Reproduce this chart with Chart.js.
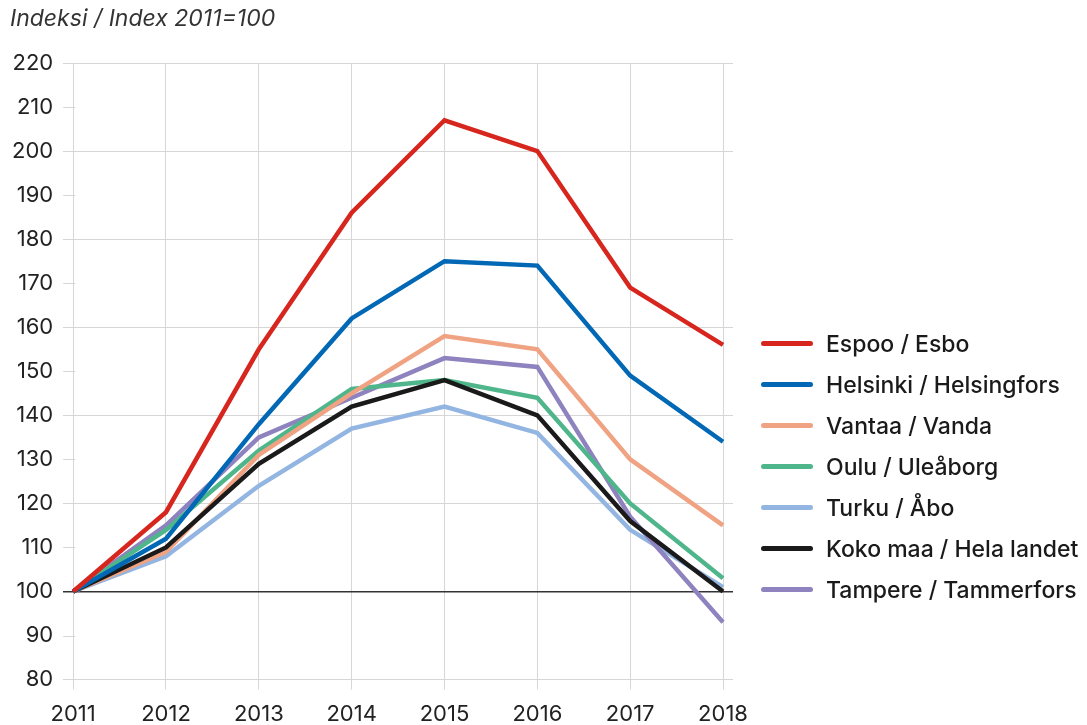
<!DOCTYPE html>
<html>
<head>
<meta charset="utf-8">
<script src="https://cdn.jsdelivr.net/npm/chart.js@4"></script>
<style>
  body { margin: 0; background: #fff; font-family: "Inter", "Liberation Sans", sans-serif; }
  #wrap { position: relative; width: 1087px; height: 725px; overflow: hidden; }
  #title { position: absolute; left: 10px; top: 4px; font-size: 23px; font-style: italic; color: #333; white-space: nowrap; }
  #legend { position: absolute; left: 761px; top: 323px; }
  .item { display: flex; align-items: center; height: 41px; font-size: 23px; color: #1a1a1a; font-weight: 500; white-space: nowrap; }
  .swatch { width: 52px; height: 5px; border-radius: 3px; margin-right: 13px; }
  canvas { display: block; }
</style>
</head>
<body>
<div id="wrap">
  <canvas id="myChart" width="1087" height="740"></canvas>
  <div id="title">Indeksi / Index 2011=100</div>
  <div id="legend"></div>
</div>
<script>
const years = [2011, 2012, 2013, 2014, 2015, 2016, 2017, 2018];

const labels = [
  "Espoo / Esbo",
  "Helsinki / Helsingfors",
  "Vantaa / Vanda",
  "Oulu / Uleåborg",
  "Turku / Åbo",
  "Koko maa / Hela landet",
  "Tampere / Tammerfors",
];

const espoo = [100, 118, 155, 186, 207, 200, 169, 156];
const helsinki = [100, 112, 138, 162, 175, 174, 149, 134];
const vantaa = [100, 109, 131, 145, 158, 155, 130, 115];
const oulu = [100, 114, 132, 146, 148, 144, 120, 103];
const turku = [100, 108, 124, 137, 142, 136, 114, 101];
const kokoMaa = [100, 110, 129, 142, 148, 140, 116, 100];
const tampere = [100, 115, 135, 144, 153, 151, 117, 93];

const series = [espoo, helsinki, vantaa, oulu, turku, kokoMaa, tampere];
const colors = ["#d7261e", "#0068b4", "#f0a383", "#4fb68c", "#93b5e1", "#1a1a1a", "#8e83bf"];
const drawOrder = [1, 2, 4, 5, 7, 3, 6];

const ctx = document.getElementById("myChart");

// short tick marks at the odd tens, drawn inside the plot like the original
const minorTicks = {
  id: "minorTicks",
  beforeDatasetsDraw(chart) {
    const y = chart.scales.y;
    const left = chart.chartArea.left;
    const c = chart.ctx;
    c.save();
    c.strokeStyle = "#d6d6d6";
    c.lineWidth = 1;
    for (let v = 90; v < 220; v += 20) {
      const py = Math.round(y.getPixelForValue(v)) + 0.5;
      c.beginPath();
      c.moveTo(left, py);
      c.lineTo(left + 12, py);
      c.stroke();
    }
    c.restore();
  },
};

const chart = new Chart(ctx, {
  type: "line",
  data: {
    datasets: series.map((s, i) => ({
      label: labels[i],
      data: s.map((v, j) => ({ x: years[j], y: v })),
      borderColor: colors[i],
      borderWidth: 4.5,
      pointRadius: 0,
      tension: 0,
      order: drawOrder[i],
    })),
  },
  options: {
    responsive: false,
    animation: false,
    layout: { padding: { left: 2, right: 354, top: 63, bottom: 0 } },
    plugins: {
      legend: { display: false },
      tooltip: { enabled: false },
    },
    scales: {
      x: {
        type: "linear",
        min: 2011 - 10 / 93,
        max: 2018 + 10 / 93,
        afterBuildTicks: (s) => {
          s.ticks = years.map((v) => ({ value: v }));
        },
        grid: { color: "#d6d6d6", tickLength: 10, tickColor: "#d6d6d6" },
        border: { display: false },
        ticks: {
          color: "#222",
          font: { family: "Inter", size: 22 },
          padding: 12,
          maxRotation: 0,
          callback: (v) => String(v),
        },
      },
      y: {
        min: 80,
        max: 220,
        afterBuildTicks: (s) => {
          const t = [];
          for (let v = 80; v <= 220; v += 10) t.push({ value: v });
          s.ticks = t;
        },
        grid: {
          drawTicks: false,
          color: (c) => {
            const v = c.tick.value;
            if (v === 100) return "#333";
            return v % 20 === 0 ? "#d6d6d6" : "rgba(0,0,0,0)";
          },
          lineWidth: (c) => (c.tick.value === 100 ? 1.5 : 1),
        },
        border: { display: false },
        ticks: {
          color: "#222",
          font: { family: "Inter", size: 22 },
          padding: 10,
        },
      },
    },
  },
  plugins: [minorTicks],
});

const legendEl = document.getElementById("legend");
labels.forEach((name, i) => {
  const row = document.createElement("div");
  row.className = "item";
  row.innerHTML = '<span class="swatch" style="background:' + colors[i] + '"></span>' + name;
  legendEl.appendChild(row);
});
</script>
</body>
</html>
